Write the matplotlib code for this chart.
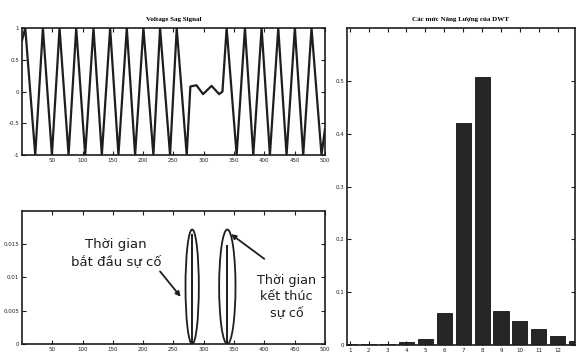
import matplotlib.pyplot as plt
from matplotlib.patches import Ellipse

# tin hieu dien ap (dinh / day doc tu hinh)
wave_t = [0, 5.5, 22, 34.6, 49.5, 62.1, 77, 89.6, 104.4, 118.1, 131.9, 145.6,
          159.3, 173.1, 186.8, 200.5, 217, 228, 244.5, 255.5, 272,
          278, 288, 299, 313, 325.5, 331,
          337.9, 354.4, 368.1, 381.9, 395.6, 409.3, 423.1, 436.8, 450.5,
          464.3, 478, 494.5, 500]
wave_v = [0.8, 1, -1, 1, -1, 1, -1, 1, -1, 1, -1, 1,
          -1, 1, -1, 1, -1, 1, -1, 1, -1,
          0.08, 0.1, -0.04, 0.09, -0.04, 0.0,
          1, -1, 1, -1, 1, -1, 1, -1, 1,
          -1, 1, -1, -0.6]

# he so chi tiet DWT: hai xung luc bat dau / ket thuc su co
spike_x = [281, 339]
spike_y = [0.0165, 0.0148]

# nang luong cac muc DWT
levels = [1, 2, 3, 4, 5, 6, 7, 8, 9, 10, 11, 12, 13]
energy = [0.002, 0.002, 0.002, 0.005, 0.011, 0.06, 0.421, 0.508,
          0.065, 0.045, 0.031, 0.018, 0.008]

ink = '#1e1e1e'

fig = plt.figure(figsize=(5.77, 3.55), dpi=100)
ax1 = fig.add_axes([0.038, 0.563, 0.525, 0.358])
ax2 = fig.add_axes([0.038, 0.031, 0.525, 0.375])
ax3 = fig.add_axes([0.601, 0.028, 0.395, 0.893])

for ax in [ax1, ax2, ax3]:
    ax.tick_params(direction='in', length=3, width=0.8, labelsize=4,
                   top=True, right=True, pad=2, colors=ink)
    for s in ax.spines.values():
        s.set_linewidth(1.2)
        s.set_color(ink)

# 1. dien ap
ax1.plot(wave_t, wave_v, color=ink, lw=1.6)
ax1.set_xlim(0, 500)
ax1.set_ylim(-1, 1)
ax1.set_xticks(range(50, 501, 50))
ax1.set_yticks([-1, -0.5, 0, 0.5, 1])
ax1.set_yticklabels(['-1', '-0.5', '0', '0.5', '1'])
ax1.set_title('Voltage Sag Signal', fontsize=5, fontweight='bold',
              family='Liberation Serif', pad=5)

# 2. he so chi tiet
ax2.vlines(spike_x, 0, spike_y, color=ink, lw=1.4)
ell_w = [22, 27]
for x, w in zip(spike_x, ell_w):
    ax2.add_patch(Ellipse((x, 0.0086), w, 0.0172, fill=False,
                          lw=1.3, color=ink))
ax2.set_xlim(0, 500)
ax2.set_ylim(0, 0.02)
ax2.set_xticks(range(50, 501, 50))
ax2.set_yticks([0, 0.005, 0.01, 0.015])
ax2.set_yticklabels(['0', '0.005', '0.01', '0.015'])

ax2.text(155, 0.0137, 'Thời gian\nbắt đầu sự cố', ha='center', va='center',
         fontsize=9.5, linespacing=1.45, color=ink, family='DejaVu Sans')
ax2.text(437, 0.0072, 'Thời gian\nkết thúc\nsự cố', ha='center', va='center',
         fontsize=9.2, linespacing=1.3, color=ink, family='DejaVu Sans')
ax2.annotate('', xy=(262, 0.0071), xytext=(228, 0.0109),
             arrowprops=dict(arrowstyle='-|>', lw=1.3, color=ink,
                             mutation_scale=7, shrinkA=0, shrinkB=0))
ax2.annotate('', xy=(345, 0.0165), xytext=(400, 0.0128),
             arrowprops=dict(arrowstyle='-|>', lw=1.3, color=ink,
                             mutation_scale=7, shrinkA=0, shrinkB=0))

# 3. nang luong
ax3.bar(levels, energy, width=0.8, color='#262626', edgecolor='#111111',
        lw=0.6)
ax3.set_xlim(0.84, 12.9)
ax3.set_ylim(0, 0.6)
ax3.set_xticks(levels[:12])
ax3.set_yticks([0, 0.1, 0.2, 0.3, 0.4, 0.5])
ax3.set_yticklabels(['0', '0.1', '0.2', '0.3', '0.4', '0.5'])
ax3.set_title('Các mức Năng Lượng của DWT', fontsize=5, fontweight='bold',
              family='Liberation Serif', pad=5)

fig.savefig('out.png', dpi=100)
